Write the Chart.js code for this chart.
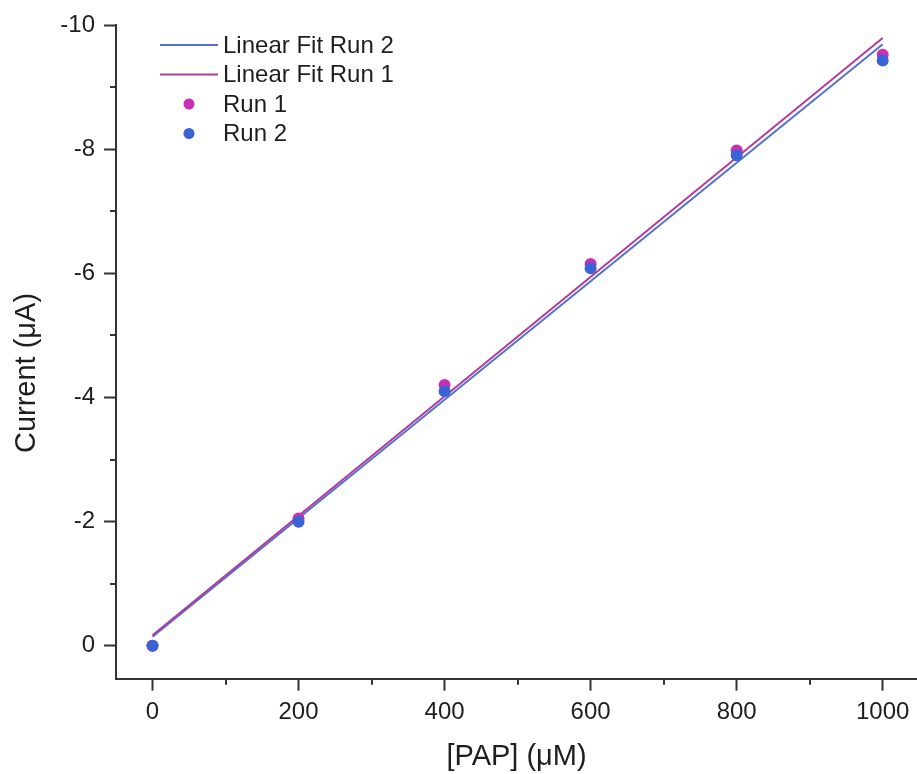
<!DOCTYPE html>
<html>
<head>
<meta charset="utf-8">
<script src="https://cdn.jsdelivr.net/npm/chart.js@4/dist/chart.umd.min.js"></script>
<style>
  html, body { margin: 0; padding: 0; background: #fff; overflow: hidden; }
  canvas { display: block; }
</style>
</head>
<body>
<canvas id="c" width="917" height="774"></canvas>
<script>
// ---- data ----
const concentrations = [0, 200, 400, 600, 800, 1000];
const run1Current = [0, -2.05, -4.2, -6.15, -7.98, -9.52];
const run2Current = [0, -2.0, -4.1, -6.08, -7.9, -9.43];
const fitX = [0, 1000];
const fit1Current = [-0.17, -9.79];
const fit2Current = [-0.145, -9.69];
const xMajorTicks = [0, 200, 400, 600, 800, 1000];
const xMinorTicks = [100, 300, 500, 700, 900];
const yMajorTicks = [-10, -8, -6, -4, -2, 0];
const yMinorTicks = [-9, -7, -5, -3, -1];
const seriesLabels = ['Linear Fit Run 2', 'Linear Fit Run 1', 'Run 1', 'Run 2'];
const xTitle = '[PAP] (μM)';
const yTitle = 'Current (μA)';

const FONT = '"Liberation Sans", Arial, sans-serif';
const TEXT = '#1e1e1e';
const AXIS = '#333333';

const toPoints = (xs, ys) => xs.map((x, i) => ({ x: x, y: ys[i] }));

const minorTicksPlugin = {
  id: 'minorTicks',
  afterDraw(chart) {
    const ctx = chart.ctx;
    const xs = chart.scales.x, ys = chart.scales.y;
    ctx.save();
    ctx.strokeStyle = AXIS;
    ctx.lineWidth = 2;
    ctx.beginPath();
    xMinorTicks.forEach(v => {
      const px = Math.round(xs.getPixelForValue(v));
      ctx.moveTo(px, xs.top);
      ctx.lineTo(px, xs.top + 6);
    });
    yMinorTicks.forEach(v => {
      const py = Math.round(ys.getPixelForValue(v));
      ctx.moveTo(ys.right, py);
      ctx.lineTo(ys.right - 6, py);
    });
    ctx.stroke();
    ctx.restore();
  }
};

const axisTitlePlugin = {
  id: 'axisTitles',
  afterDraw(chart) {
    const ctx = chart.ctx;
    const area = chart.chartArea;
    ctx.save();
    ctx.fillStyle = TEXT;
    ctx.font = '29px ' + FONT;
    ctx.textAlign = 'center';
    ctx.textBaseline = 'middle';
    ctx.fillText(xTitle, (area.left + area.right) / 2, 757);
    ctx.translate(27, 373);
    ctx.rotate(-Math.PI / 2);
    ctx.fillText(yTitle, 0, 0);
    ctx.restore();
  }
};

const legendPlugin = {
  id: 'insideLegend',
  afterDraw(chart) {
    const ctx = chart.ctx;
    const area = chart.chartArea;
    const x0 = area.left + 44;
    const y0 = area.top + 20;
    const rowH = 29.5;
    ctx.save();
    ctx.font = '24px ' + FONT;
    ctx.textBaseline = 'middle';
    chart.data.datasets.forEach((ds, row) => {
      const y = y0 + row * rowH;
      if (ds.showLine) {
        ctx.strokeStyle = ds.borderColor;
        ctx.lineWidth = 2;
        ctx.beginPath();
        ctx.moveTo(x0, y);
        ctx.lineTo(x0 + 58, y);
        ctx.stroke();
      } else {
        ctx.fillStyle = ds.backgroundColor;
        ctx.beginPath();
        ctx.arc(x0 + 29, y, 5.5, 0, Math.PI * 2);
        ctx.fill();
      }
      ctx.fillStyle = TEXT;
      ctx.fillText(ds.label, x0 + 63, y + 1);
    });
    ctx.restore();
  }
};

new Chart(document.getElementById('c'), {
  type: 'scatter',
  data: {
    datasets: [
      { label: seriesLabels[0], data: toPoints(fitX, fit2Current), showLine: true,
        borderColor: '#5272cc', borderWidth: 2, pointRadius: 0, pointHoverRadius: 0, order: 3 },
      { label: seriesLabels[1], data: toPoints(fitX, fit1Current), showLine: true,
        borderColor: '#b23a9f', borderWidth: 2, pointRadius: 0, pointHoverRadius: 0, order: 2 },
      { label: seriesLabels[2], data: toPoints(concentrations, run1Current), showLine: false,
        backgroundColor: '#c82fb6', borderColor: '#c82fb6', pointRadius: 6, borderWidth: 0, order: 1 },
      { label: seriesLabels[3], data: toPoints(concentrations, run2Current), showLine: false,
        backgroundColor: '#3a64d6', borderColor: '#3a64d6', pointRadius: 6, borderWidth: 0, order: 0 }
    ]
  },
  options: {
    responsive: false,
    animation: false,
    events: [],
    layout: { autoPadding: false, padding: { top: 25, right: 0, left: 0, bottom: 0 } },
    plugins: { legend: { display: false }, tooltip: { enabled: false } },
    scales: {
      x: {
        type: 'linear',
        min: -50,
        max: 1047,
        afterBuildTicks: s => { s.ticks = xMajorTicks.map(v => ({ value: v })); },
        afterFit: s => { s.height = 95.3; },
        grid: { drawOnChartArea: false, drawTicks: true, tickLength: 12, tickColor: AXIS, tickWidth: 2 },
        border: { display: true, color: AXIS, width: 2 },
        ticks: { color: TEXT, font: { family: FONT, size: 24 }, padding: 7, maxRotation: 0,
                 callback: v => String(v) },
        title: { display: false }
      },
      y: {
        type: 'linear',
        reverse: true,
        min: -10,
        max: 0.53,
        afterBuildTicks: s => { s.ticks = yMajorTicks.map(v => ({ value: v })); },
        afterFit: s => { s.width = 116; },
        grid: { drawOnChartArea: false, drawTicks: true, tickLength: 12, tickColor: AXIS, tickWidth: 2 },
        border: { display: true, color: AXIS, width: 2 },
        ticks: { color: TEXT, font: { family: FONT, size: 24 }, padding: 9,
                 callback: v => String(v) },
        title: { display: false }
      }
    }
  },
  plugins: [minorTicksPlugin, axisTitlePlugin, legendPlugin]
});
</script>
</body>
</html>
